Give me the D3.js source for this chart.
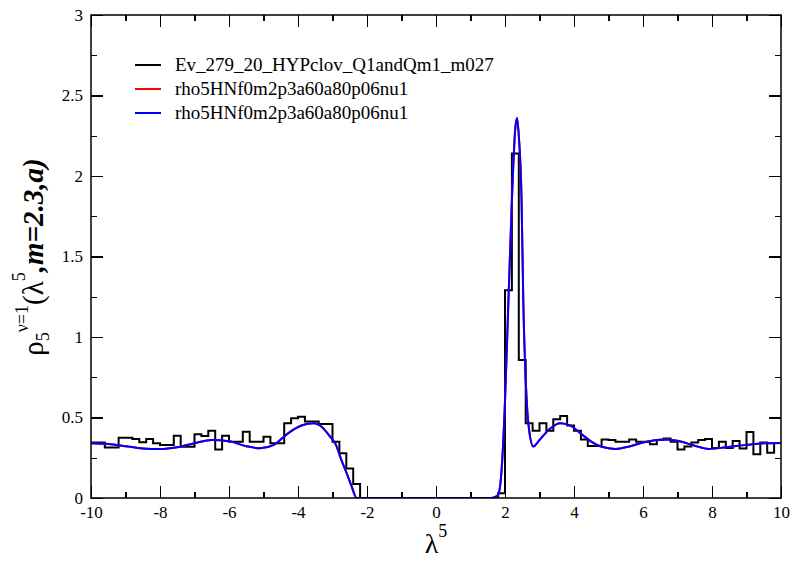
<!DOCTYPE html>
<html lang="en">
<head>
  <meta charset="UTF-8">
  <title>rho5 spectral density</title>
  <style>
    body { margin: 0; background: #fff; }
    .chart, .chart text {
      font-family: "Liberation Serif", "Times New Roman", Times, "DejaVu Serif", serif !important;
      fill: #000;
    }
    .axis path { display: none; }
    .axis line {
      stroke: #000;
      stroke-width: 1.2;
      shape-rendering: crispEdges;
    }
    .axis text { font-size: 17px; }
    .legend text { font-size: 19px; }
  </style>
</head>
<body>
  <svg class="chart"></svg>
  <script src="https://cdn.jsdelivr.net/npm/d3@7/dist/d3.min.js"></script>
  <script>
    // histogram: 100 bins of width 0.2 starting at -10
    var histStart = -10;
    var binWidth = 0.2;
    var histValues = [
      0.344, 0.344, 0.313, 0.313, 0.375, 0.375, 0.366, 0.346, 0.366, 0.340,
      0.329, 0.329, 0.387, 0.319, 0.319, 0.396, 0.385, 0.418, 0.302, 0.387,
      0.350, 0.350, 0.412, 0.350, 0.350, 0.381, 0.340, 0.340, 0.464, 0.495,
      0.505, 0.475, 0.475, 0.460, 0.460, 0.350, 0.278, 0.184, 0.087, 0,
      0, 0, 0, 0, 0, 0, 0, 0, 0, 0,
      0, 0, 0, 0, 0, 0, 0, 0, 0, 0.030,
      1.290, 2.140, 0.857, 0.464, 0.418, 0.464, 0.418, 0.489, 0.509, 0.450,
      0.418, 0.364, 0.323, 0.323, 0.364, 0.360, 0.350, 0.350, 0.364, 0.350,
      0.350, 0.334, 0.360, 0.370, 0.350, 0.302, 0.320, 0.345, 0.360, 0.366,
      0.310, 0.350, 0.310, 0.354, 0.308, 0.410, 0.272, 0.345, 0.281, 0.342
    ];

    // reconstructed curve (red and blue fits coincide)
    var fitX = [-10, -9.5, -9, -8.5, -8, -7.5, -7, -6.5, -6, -5.5,
      -5.1, -4.7, -4.3, -3.9, -3.55, -3.3, -3.07, -2.9, -2.75, -2.6,
      -2.45, -2.3, -1, 0, 1, 1.6, 1.7, 1.8, 1.9, 2.0,
      2.1, 2.2, 2.3, 2.35, 2.4, 2.48, 2.53, 2.63, 2.7, 2.82,
      3.0, 3.3, 3.6, 3.9, 4.2, 4.5, 4.8, 5.2, 5.6, 6.0,
      6.6, 7.0, 7.5, 7.9, 8.4, 9.0, 9.5, 10];
    var fitRed = [0.34, 0.335, 0.322, 0.308, 0.304, 0.315, 0.34, 0.36, 0.352, 0.322,
      0.309, 0.33, 0.40, 0.45, 0.464, 0.44, 0.381, 0.33, 0.24, 0.16,
      0.075, 0, 0, 0, 0, 0, 0.005, 0.02, 0.17, 0.6,
      1.23, 1.85, 2.3, 2.36, 2.25, 1.85, 1.23, 0.6, 0.42, 0.32,
      0.36, 0.43, 0.465, 0.45, 0.40, 0.35, 0.318, 0.305, 0.32, 0.345,
      0.364, 0.355, 0.325, 0.305, 0.315, 0.33, 0.34, 0.342];
    var fitBlue = fitRed;

    var seriesNames = [
      "Ev_279_20_HYPclov_Q1andQm1_m027",
      "rho5HNf0m2p3a60a80p06nu1",
      "rho5HNf0m2p3a60a80p06nu1"
    ];
    var seriesColors = ["#000000", "#ff0000", "#0000ff"];

    var xTicks = [-10, -8, -6, -4, -2, 0, 2, 4, 6, 8, 10];
    var xMinor = [-9, -7, -5, -3, -1, 1, 3, 5, 7, 9];
    var yTicks = [0, 0.5, 1, 1.5, 2, 2.5, 3];
    var yMinor = [0.25, 0.75, 1.25, 1.75, 2.25, 2.75];

    var serif = "'Liberation Serif', 'Times New Roman', Times, 'DejaVu Serif', serif";

    var margin = {top: 15, right: 11, bottom: 63, left: 91},
      width = 792 - margin.left - margin.right,
      height = 561 - margin.top - margin.bottom;

    var x = d3.scaleLinear().domain([-10, 10]).range([0, width]);
    var y = d3.scaleLinear().domain([0, 3]).range([height, 0]);

    var svg = d3.select(".chart")
      .attr("width", 792)
      .attr("height", 561)
      .attr("font-family", serif);

    var chart = svg.append("g")
      .attr("transform", "translate(" + margin.left + "," + margin.top + ")");

    chart.append("clipPath").attr("id", "plotclip")
      .append("rect")
      .attr("width", width)
      .attr("height", height);

    // ticks on all four sides, pointing inward
    var noLabel = function() { return ""; };
    function addAxis(axis, tx, ty) {
      var g = chart.append("g").attr("class", "axis")
        .attr("transform", "translate(" + tx + "," + ty + ")")
        .call(axis);
      g.attr("font-family", serif);
      return g;
    }
    addAxis(d3.axisBottom(x).tickValues(xTicks).tickSize(-12).tickPadding(8)
      .tickFormat(function(d) { return String(d); }), 0, height);
    addAxis(d3.axisBottom(x).tickValues(xMinor).tickSize(-6).tickFormat(noLabel), 0, height);
    addAxis(d3.axisTop(x).tickValues(xTicks).tickSize(-12).tickFormat(noLabel), 0, 0);
    addAxis(d3.axisTop(x).tickValues(xMinor).tickSize(-6).tickFormat(noLabel), 0, 0);
    addAxis(d3.axisLeft(y).tickValues(yTicks).tickSize(-12).tickPadding(8)
      .tickFormat(function(d) { return String(d); }), 0, 0);
    addAxis(d3.axisLeft(y).tickValues(yMinor).tickSize(-6).tickFormat(noLabel), 0, 0);
    addAxis(d3.axisRight(y).tickValues(yTicks).tickSize(-12).tickFormat(noLabel), width, 0);
    addAxis(d3.axisRight(y).tickValues(yMinor).tickSize(-6).tickFormat(noLabel), width, 0);

    // histogram as a step line
    var histPts = histValues.map(function(v, i) {
      return [histStart + i * binWidth, v];
    });
    histPts.push([histStart + histValues.length * binWidth, histValues[histValues.length - 1]]);

    var stepLine = d3.line()
      .x(function(d) { return x(d[0]); })
      .y(function(d) { return y(d[1]); })
      .curve(d3.curveStepAfter);

    var smoothLine = d3.line()
      .x(function(d) { return x(d[0]); })
      .y(function(d) { return y(d[1]); })
      .curve(d3.curveMonotoneX);

    var plot = chart.append("g").attr("clip-path", "url(#plotclip)");

    plot.append("path")
      .attr("d", stepLine(histPts))
      .attr("fill", "none")
      .attr("stroke", seriesColors[0])
      .attr("stroke-width", 2);

    [fitRed, fitBlue].forEach(function(vals, k) {
      plot.append("path")
        .attr("d", smoothLine(fitX.map(function(xv, i) { return [xv, vals[i]]; })))
        .attr("fill", "none")
        .attr("stroke", seriesColors[k + 1])
        .attr("stroke-width", 2);
    });

    // frame
    chart.append("rect")
      .attr("width", width)
      .attr("height", height)
      .attr("fill", "none")
      .attr("stroke", "#000")
      .attr("stroke-width", 1.5);

    // legend
    var legend = svg.append("g").attr("class", "legend");
    seriesNames.forEach(function(name, i) {
      var ly = 65 + i * 24;
      legend.append("line")
        .attr("x1", 135).attr("x2", 161)
        .attr("y1", ly).attr("y2", ly)
        .attr("stroke", seriesColors[i])
        .attr("stroke-width", 2);
      legend.append("text")
        .attr("x", 175).attr("y", ly)
        .attr("dy", "0.33em")
        .text(name);
    });

    // x label
    var xl = svg.append("text")
      .attr("x", margin.left + width / 2)
      .attr("y", 553)
      .attr("text-anchor", "middle")
      .style("font-size", "28px");
    xl.append("tspan").text("λ");
    xl.append("tspan").attr("dy", -16).style("font-size", "18px").text("5");

    // y label
    var yl = svg.append("text")
      .attr("transform", "translate(43,257) rotate(-90)")
      .attr("text-anchor", "middle")
      .style("font-size", "29px");
    yl.append("tspan").text("ρ");
    yl.append("tspan").attr("dy", 6).style("font-size", "18px").text("5");
    yl.append("tspan").attr("dy", -21).style("font-size", "18px").text("ν=1");
    yl.append("tspan").attr("dy", 15).text("(λ");
    yl.append("tspan").attr("dy", -18).style("font-size", "18px").text("5");
    yl.append("tspan").attr("dy", 18)
      .style("font-weight", "bold").style("font-style", "italic")
      .text(",m=2.3,a)");
  </script>
</body>
</html>
